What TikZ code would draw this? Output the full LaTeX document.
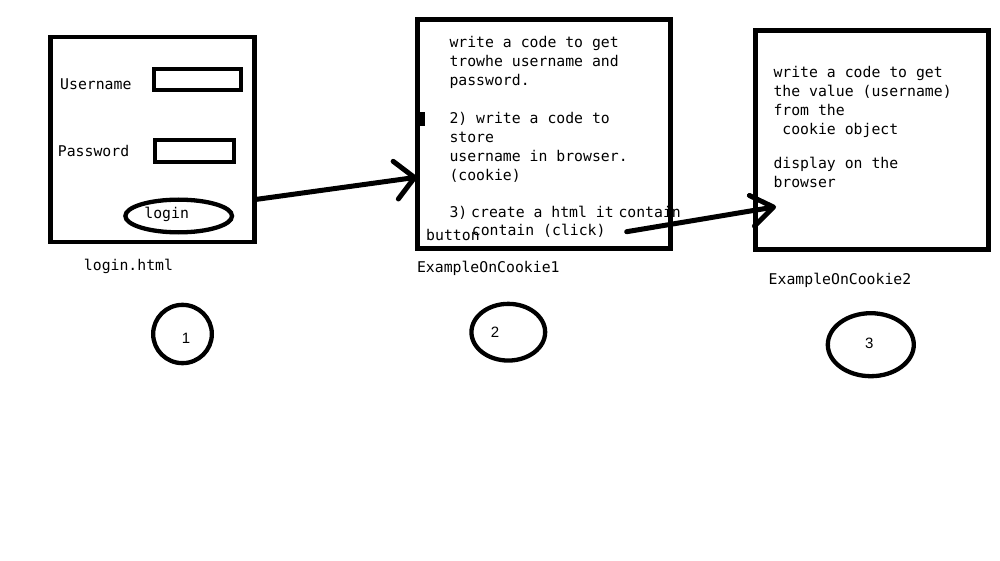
\documentclass[tikz,border=0pt]{standalone}
\usepackage{fontspec}
\setmonofont{DejaVu Sans Mono}
\newfontfamily\digitfont{Liberation Sans}
\usetikzlibrary{arrows.meta,shapes.geometric}

\begin{document}
\begin{tikzpicture}[x=1pt,y=-1pt,
    page/.style={draw,line width=4.5pt,inner sep=0pt},
    field/.style={draw,line width=4pt,inner sep=0pt},
    oval/.style={draw,ellipse,line width=4.3pt,inner sep=0pt},
    txt/.style={inner sep=0pt,align=left,font=\ttfamily\fontsize{14.8}{19}\selectfont},
    digit/.style={inner sep=0pt,font=\digitfont\fontsize{15}{17}\selectfont},
    pen/.style={line width=5pt,line cap=round}]
  \useasboundingbox (0,0) rectangle (1000,561);
  % login.html
  \node[page,minimum width=204pt,minimum height=205pt] (box1) at (152.6,139.5) {};
  \node[txt,anchor=west] (user) at (60,84) {Username};
  \node[txt,anchor=west] (pass) at (57.7,151) {Password};
  \node[field,minimum width=87.7pt,minimum height=21.7pt] (userfield) at (197.5,79.5) {};
  \node[field,minimum width=78.7pt,minimum height=22.7pt] (passfield) at (194.7,151) {};
  \node[oval,minimum width=106.7pt,minimum height=32.7pt] (btn) at (178.7,216) {};
  \node[txt] (btntext) at (166.7,214.5) {login};
  \node[txt] (name1) at (128.5,266.7) {login.html};
  % ExampleOnCookie1
  \node[page,line width=5pt,minimum width=253.3pt,minimum height=228.2pt] (box2) at (544.2,133.9) {};
  \fill (417.5,111.7) rectangle (425,126);
  \node[txt,anchor=north west] (steps) at (449.3,36.5) {write a code to get\\trowhe username and\\password.\\[19pt]2) write a code to\\store\\username in browser.\\(cookie)};
  \node[txt,anchor=west] (three) at (449.3,213) {3)};
  \node[txt,anchor=west] (create) at (471,212) {create a html it};
  \node[txt,anchor=west] (contain) at (618.3,211.7) {contain};
  \node[txt,anchor=west] (click) at (471.7,231) {contain (click)};
  \node[txt,anchor=west] (button) at (426,235) {button};
  \node[txt] (name2) at (488.3,268.3) {ExampleOnCookie1};
  % ExampleOnCookie2
  \node[page,line width=5pt,minimum width=233.3pt,minimum height=218.4pt] (box3) at (871.7,140) {};
  \node[txt,anchor=north west] (show) at (773.3,66.5) {write a code to get\\the value (username)\\from the\\\hspace*{8.9pt}cookie object\\[15pt]display on the\\browser};
  \node[txt] (name3) at (840,280) {ExampleOnCookie2};
  % numbered circles
  \foreach \n/\cx/\cy/\w/\h/\tx/\ty in {1/182.5/334/58.7/58.3/186/338.3,
      2/508.3/332.2/73.7/56.7/495/332.3, 3/870.8/344.7/86/63/869.3/343.3}{
    \node[oval,minimum width=\w pt,minimum height=\h pt] (circ\n) at (\cx,\cy) {};
    \node[digit] (num\n) at (\tx,\ty) {\n};
  }
  % arrows
  \coordinate (from2) at (626.7,231.7);
  \draw[pen,-{Straight Barb[length=19pt,width=38pt,round]}] ([yshift=-59.8pt]box1.east) -- ([xshift=2pt,yshift=-43.3pt]box2.west);
  \draw[pen,-{Straight Barb[length=22pt,width=31pt,round]}] (from2) -- ([xshift=23.5pt,yshift=-66.7pt]box3.west);
\end{tikzpicture}
\end{document}
